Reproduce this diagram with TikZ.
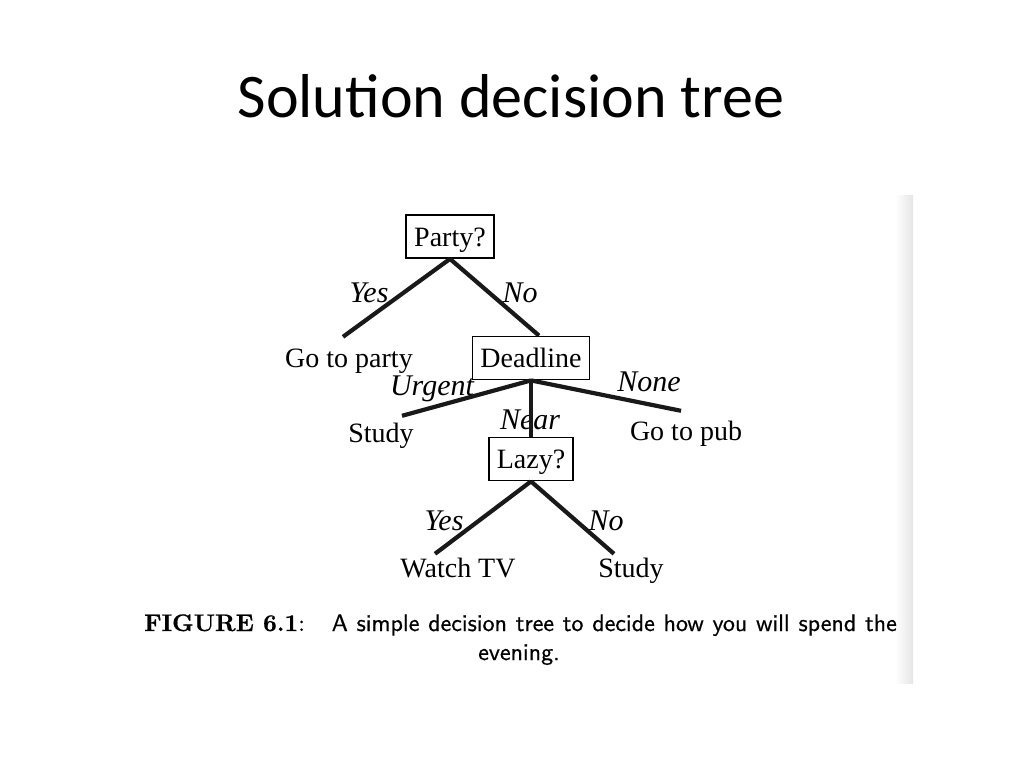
\documentclass[tikz,border=0pt]{standalone}
\usepackage{fontspec}
\newfontfamily\timesf{Liberation Serif}
\newfontfamily\calibf{Carlito}
\newfontfamily\capsans[FakeBold=0.6]{lmsans10-regular.otf}
\newfontfamily\capbold[FakeBold=0.6]{lmroman10-bold.otf}
\newfontfamily\caprm[FakeBold=0.6]{lmroman10-regular.otf}
\usetikzlibrary{calc}
\begin{document}
\begin{tikzpicture}[x=1pt,y=-1pt,
  box/.style={draw, line width=1.8pt, font=\timesf\fontsize{28}{30}\selectfont,
    inner xsep=8pt, inner ysep=12pt, text height=19pt, text depth=0pt},
  leaf/.style={font=\timesf\fontsize{28}{30}\selectfont, inner sep=0pt,
    text height=19pt, text depth=6pt, anchor=base},
  elabel/.style={font=\timesf\itshape\fontsize{30}{32}\selectfont, inner sep=0pt, anchor=base},
  edge/.style={line width=4.2pt, black!90},
  capfont/.style={inner sep=0pt}]
\useasboundingbox (0,0) rectangle (1024,768);
% scanned page edge
\shade[left color=white, right color=gray!20] (895,195) rectangle (913,683);

% title
\node[font=\calibf\fontsize{62}{70}\selectfont, anchor=base, inner sep=0pt] (title) at (511,117) {Solution decision tree};

% edge labels
\node[elabel] (lyes1) at (369,302) {Yes};
\node[elabel] (lno1) at (520,302) {No};
\node[elabel] (lurg) at (432,395) {Urgent};
\node[elabel] (lnone) at (649,391) {None};
\node[elabel] (lnear) at (530,429) {Near};
\node[elabel] (lyes2) at (444,530) {Yes};
\node[elabel] (lno2) at (606,530) {No};

% decision boxes
\node[box] (party) at (450,236.5) {Party?};
\node[box] (deadline) at (531,358) {Deadline};
\node[box] (lazy) at (531,459) {Lazy?};

% leaves
\node[leaf] (goparty) at (349,367) {Go to party};
\node[leaf] (studyL) at (381,442) {Study};
\node[leaf] (gopub) at (686,440) {Go to pub};
\node[leaf] (watchtv) at (458,577) {Watch TV};
\node[leaf] (studyR) at (631,577) {Study};

% edges
\draw[edge] (party.south) -- ($(goparty.north)+(-6,-11)$);
\draw[edge] (party.south) -- ($(deadline.north)+(8,0)$);
\draw[edge] (deadline.south) -- ($(studyL.north)+(21,-7)$);
\draw[edge] (deadline.south) -- ($(gopub.north)+(-5,-10)$);
\draw[edge] (deadline.south) -- (lazy.north);
\draw[edge] (lazy.south) -- ($(watchtv.north)+(-23,-4)$);
\draw[edge] (lazy.south) -- ($(studyR.north)+(-17,-4)$);

% caption
\node[capfont, anchor=base west, font=\fontsize{24}{29}\selectfont] (figlab) at (144,631) {{\capbold FIGURE 6.1}{\caprm :}};
\node[capfont, anchor=base east, font=\capsans\fontsize{24}{29}\selectfont] (cap1) at (897,631)
  {\makebox[565pt][s]{A simple decision tree to decide how you will spend the}};
\node[capfont, anchor=base, font=\capsans\fontsize{24}{29}\selectfont] (cap2) at (519,660) {evening.};
\end{tikzpicture}
\end{document}
